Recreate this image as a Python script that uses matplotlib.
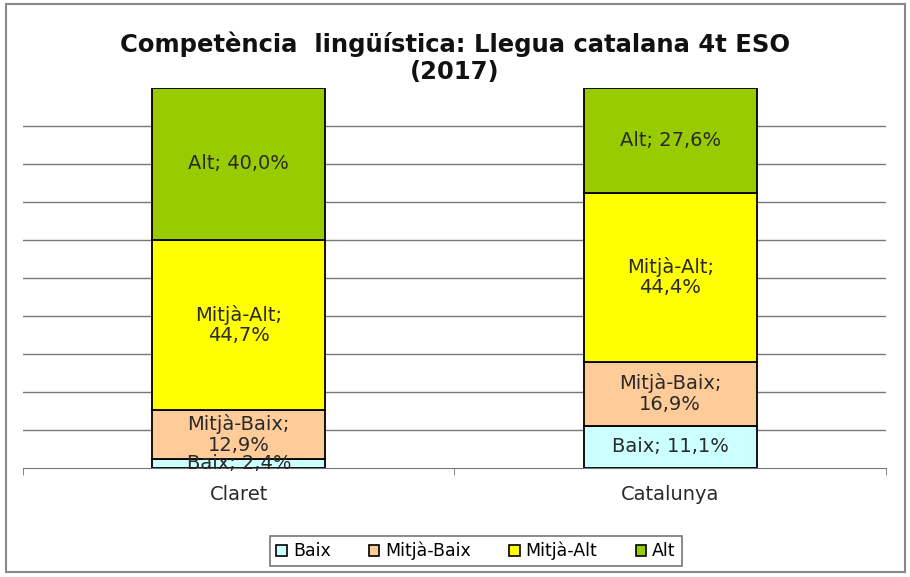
import numpy as np
import matplotlib.pyplot as plt
from matplotlib.patches import Rectangle

plt.rcParams['font.family'] = ['DejaVu Sans']

# Data
categories = ['Claret', 'Catalunya']
levels = ['Baix', 'Mitjà-Baix', 'Mitjà-Alt', 'Alt']
baix = [2.4, 11.1]
mitja_baix = [12.9, 16.9]
mitja_alt = [44.7, 44.4]
alt = [40.0, 27.6]

colors = ['#CCFFFF', '#FFCC99', '#FFFF00', '#99CC00']

fig = plt.figure(figsize=(9.1, 5.77), dpi=100)
ax = fig.add_axes([0.0253, 0.1889, 0.9483, 0.6586])

x = np.arange(len(categories))
series = [baix, mitja_baix, mitja_alt, alt]
bottom = np.zeros(len(categories))
for name, vals, col in zip(levels, series, colors):
    vals = np.array(vals)
    ax.bar(x, vals, 0.4, bottom=bottom, color=col, edgecolor='black',
           linewidth=1.3, label=name, zorder=3)
    for xi, b, v in zip(x, bottom, vals):
        val = f"{v:.1f}".replace('.', ',') + '%'
        if name in ('Mitjà-Baix', 'Mitjà-Alt'):
            txt = f"{name};\n{val}"
        else:
            txt = f"{name}; {val}"
        ax.text(xi, b + v / 2, txt, ha='center', va='center', fontsize=14,
                color='#2a2a2a', linespacing=1.1, zorder=4)
    bottom += vals

ax.set_xlim(-0.5, 1.5)
ax.set_ylim(0, 100)
ax.set_yticks(np.arange(10, 100, 10))
ax.yaxis.grid(True, color='#777777', linewidth=1, zorder=0)
ax.tick_params(axis='y', length=0, labelleft=False)
ax.set_xticks(x)
ax.set_xticklabels(categories, fontsize=14, color='#2a2a2a')
ax.tick_params(axis='x', length=0, pad=12)
ax.set_xticks([-0.5, 0.5, 1.5], minor=True)
ax.tick_params(axis='x', which='minor', length=5, direction='out', color='#777777')
for s in ['top', 'right', 'left']:
    ax.spines[s].set_visible(False)
ax.spines['bottom'].set_color('#777777')

fig.text(0.5, 0.9, 'Competència  lingüística: Llegua catalana 4t ESO\n(2017)',
         ha='center', va='center', fontsize=17.5, fontweight='bold',
         color='#111111', linespacing=1.15)

leg = fig.legend(loc='center', bbox_to_anchor=(0.523, 0.045), ncol=4, fontsize=12.5,
                 frameon=True, fancybox=False, edgecolor='#555555',
                 handlelength=0.6, handleheight=0.6, handletextpad=0.35,
                 columnspacing=2.2, borderpad=0.35, borderaxespad=0)
leg.get_frame().set_linewidth(1.2)
for h in leg.legend_handles:
    h.set_linewidth(1.2)

fig.patches.append(Rectangle((0.007, 0.008), 0.988, 0.985, transform=fig.transFigure,
                             fill=False, edgecolor='#888888', linewidth=1.5))

fig.savefig('out.png', dpi=100)
